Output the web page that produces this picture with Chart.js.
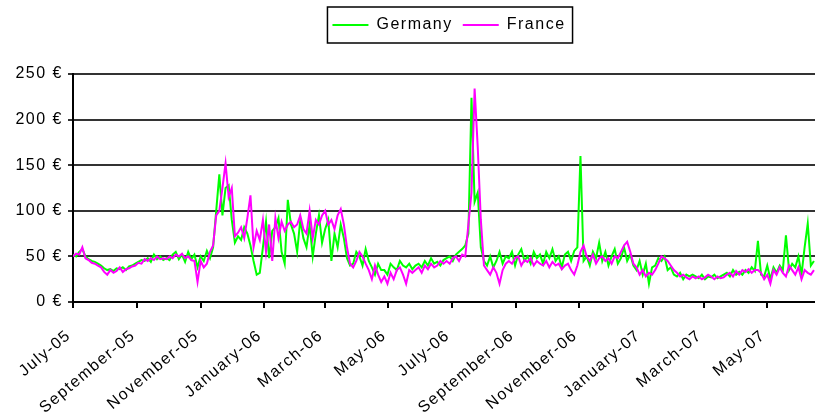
<!DOCTYPE html>
<html>
<head>
<meta charset="utf-8">
<script src="https://cdn.jsdelivr.net/npm/chart.js@4.4.0/dist/chart.umd.min.js"></script>
<style>
    html, body { margin: 0; padding: 0; background: #fff; }
    #wrap { width: 815px; height: 417px; }
</style>
</head>
<body>
<div id="wrap"><canvas id="priceChart"></canvas></div>
<script>
const STEP_DAYS = 3; // one reading every 3 days, starting 1 July 2005

// x axis: day offset of each month label, and the labels
const monthDays = [0, 62, 123, 184, 243, 304, 365, 427, 488, 549, 608, 669];
const monthLabels = ['July-05', 'September-05', 'November-05', 'January-06', 'March-06', 'May-06',
    'July-06', 'September-06', 'November-06', 'January-07', 'March-07', 'May-07'];

// y axis ticks
const priceTicks = [0, 50, 100, 150, 200, 250];

// prices (€/MWh)
const germany = [
    52, 50, 55, 58, 50, 47, 45, 44, 42, 40,
    37, 35, 36, 34, 37, 36, 38, 35, 39, 40,
    42, 44, 46, 45, 48, 44, 52, 47, 50, 46,
    48, 46, 52, 55, 47, 52, 44, 55, 47, 52,
    38, 50, 45, 56, 48, 60, 100, 140, 95, 125,
    128, 90, 65, 72, 68, 82, 75, 62, 45, 30,
    32, 60, 88, 48, 78, 82, 92, 55, 42, 112,
    85, 75, 55, 90, 70, 60, 85, 50, 75, 95,
    65, 80, 90, 45, 75, 60, 85, 70, 48, 40,
    42, 55, 50, 40, 58, 45, 38, 30, 42, 35,
    35, 30, 42, 38, 35, 45, 40, 38, 42, 36,
    40, 42, 38, 45, 40, 48, 42, 44, 40, 46,
    48, 50, 45, 52, 55, 58, 62, 75, 224, 110,
    120, 60, 45, 40, 50, 38, 45, 55, 42, 50,
    48, 55, 40, 52, 58, 45, 50, 42, 55, 48,
    52, 42, 55, 48, 58, 45, 50, 38, 52, 55,
    45, 56, 60, 160, 45, 50, 40, 55, 48, 65,
    45, 55, 40, 50, 58, 42, 48, 60, 45, 52,
    40, 35, 45, 30, 42, 20, 38, 40, 48, 45,
    50, 35, 38, 30, 28, 32, 25, 30, 28, 30,
    28, 26, 30, 25, 28, 27, 30, 26, 28, 30,
    32, 28, 35, 30, 33, 30, 35, 32, 38, 34,
    67, 30, 28, 40, 25, 38, 32, 40, 35, 73,
    35, 42, 38, 50, 30, 60, 86, 40, 45
];
const france = [
    50, 53, 52, 60, 48, 46, 43, 42, 40, 38,
    33, 30, 35, 32, 34, 38, 33, 36, 37, 39,
    40, 43, 42, 47, 45, 48, 46, 50, 47, 48,
    47, 50, 48, 52, 50, 53, 48, 50, 46, 45,
    22, 45, 38, 42, 55, 62, 95, 100, 125, 152,
    115, 125, 72, 76, 82, 70, 92, 117, 60, 78,
    68, 90, 55, 85, 45, 92, 70, 88, 78, 85,
    88, 82, 85, 95, 80, 75, 100, 70, 90, 85,
    95, 100, 85, 90, 80, 95, 102, 85, 60, 42,
    38, 45, 55, 50, 42, 35, 25, 40, 30, 22,
    28, 20, 32, 25, 35, 38, 30, 20, 35, 32,
    35, 38, 32, 40, 36, 42, 38, 40, 45, 42,
    45, 42, 48, 50, 45, 52, 50, 85, 120, 234,
    170, 90, 40, 35, 30, 38, 32, 20, 35, 42,
    45, 42, 48, 50, 40, 46, 44, 48, 40, 45,
    42, 40, 45, 38, 44, 40, 42, 36, 40, 42,
    35, 30, 40, 55, 62, 50, 45, 52, 42, 48,
    50, 45, 48, 42, 50, 48, 55, 62, 66, 55,
    42, 38, 30, 35, 28, 32, 30, 35, 42, 50,
    48, 45, 40, 35, 32, 28, 30, 27, 25, 28,
    26, 28, 25, 27, 30, 28, 25, 28, 26, 27,
    30, 32, 28, 34, 30, 35, 33, 36, 32, 35,
    35, 32, 25, 30, 20, 35, 30, 38, 32, 28,
    40, 35, 30, 38, 25, 35, 32, 30, 35
];

const FONT = { family: '"Liberation Sans", Arial, sans-serif', size: 16 };
const LEGEND_PAD = 10;

function toPoints(values) {
    return values.map((v, i) => ({ x: i * STEP_DAYS, y: v }));
}

// old Excel text is loosely spaced
const spacedText = {
    id: 'spacedText',
    beforeUpdate(chart) { chart.ctx.letterSpacing = '1.5px'; },
    beforeDraw(chart) { chart.ctx.letterSpacing = '1.5px'; }
};

// move the legend over the plot and draw a black frame round it
const legendFrame = {
    id: 'legendFrame',
    afterLayout(chart) {
        const lg = chart.legend;
        const boxes = lg.legendHitBoxes;
        if (!boxes || !boxes.length) return;
        const dy = 25 - (lg.top + LEGEND_PAD + boxes[0].height / 2);
        const dx = 449 - (lg.left + lg.right) / 2;
        lg.top += dy; lg.bottom += dy;
        lg.left += dx; lg.right += dx;
    },
    afterDraw(chart) {
        const boxes = chart.legend.legendHitBoxes;
        if (!boxes || !boxes.length) return;
        const first = boxes[0];
        const last = boxes[boxes.length - 1];
        const ctx = chart.ctx;
        const midY = first.top + first.height / 2;
        ctx.save();
        ctx.strokeStyle = '#000';
        ctx.lineWidth = 1.5;
        ctx.strokeRect(first.left - 5, midY - 18, last.left + last.width - first.left + 12, 36);
        ctx.restore();
    }
};

new Chart(document.getElementById('priceChart'), {
    type: 'line',
    data: {
        datasets: [{
            label: 'Germany',
            data: toPoints(germany),
            borderColor: '#00ff00',
            backgroundColor: '#00ff00',
            borderWidth: 2,
            pointRadius: 0,
            tension: 0,
            order: 2
        }, {
            label: 'France',
            data: toPoints(france),
            borderColor: '#ff00ff',
            backgroundColor: '#ff00ff',
            borderWidth: 2,
            pointRadius: 0,
            tension: 0,
            order: 1
        }]
    },
    options: {
        responsive: true,
        maintainAspectRatio: false,
        animation: false,
        layout: { padding: { left: 0, right: 0, top: 38, bottom: 0 } },
        scales: {
            x: {
                type: 'linear',
                min: 0,
                max: 715,
                afterBuildTicks: axis => { axis.ticks = monthDays.map(d => ({ value: d })); },
                afterFit: axis => { axis.height = 115; },
                ticks: {
                    autoSkip: false,
                    minRotation: 40,
                    maxRotation: 40,
                    padding: 18,
                    labelOffset: -4,
                    color: '#000',
                    font: FONT,
                    callback: (val, i) => monthLabels[i]
                },
                grid: { drawOnChartArea: false, drawTicks: true, tickLength: 6, color: '#000', lineWidth: 2 },
                border: { color: '#000', width: 2 }
            },
            y: {
                min: 0,
                max: 250,
                afterBuildTicks: axis => { axis.ticks = priceTicks.map(v => ({ value: v })); },
                afterFit: axis => { axis.width = 73; },
                ticks: {
                    color: '#000',
                    font: FONT,
                    padding: 5,
                    callback: val => val + ' €'
                },
                grid: { color: '#333', lineWidth: 2, tickLength: 5 },
                border: { color: '#000', width: 2 }
            }
        },
        plugins: {
            legend: {
                position: 'top',
                labels: {
                    usePointStyle: true,
                    pointStyle: 'line',
                    pointStyleWidth: 36,
                    color: '#000',
                    font: FONT,
                    padding: LEGEND_PAD,
                    sort: (a, b) => a.datasetIndex - b.datasetIndex
                }
            },
            tooltip: { enabled: false }
        }
    },
    plugins: [spacedText, legendFrame]
});
</script>
</body>
</html>
